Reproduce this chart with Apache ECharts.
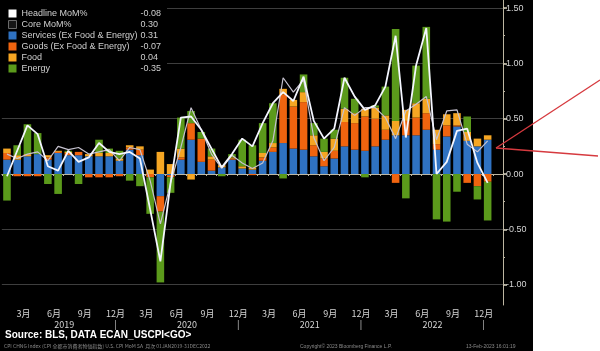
<!DOCTYPE html>
<html>
<head>
<meta charset="utf-8">
<script src="https://cdn.jsdelivr.net/npm/echarts@6/dist/echarts.min.js"></script>
<style>
html,body{margin:0;padding:0;background:#fff;}
#c{width:600px;height:351px;background:linear-gradient(to right,#000 0,#000 533px,#fff 533px,#fff 600px);}
</style>
</head>
<body>
<div id="c"></div>
<script>
const categories = [
 '2019-01','2019-02','2019-03','2019-04','2019-05','2019-06','2019-07','2019-08','2019-09','2019-10','2019-11','2019-12',
 '2020-01','2020-02','2020-03','2020-04','2020-05','2020-06','2020-07','2020-08','2020-09','2020-10','2020-11','2020-12',
 '2021-01','2021-02','2021-03','2021-04','2021-05','2021-06','2021-07','2021-08','2021-09','2021-10','2021-11','2021-12',
 '2022-01','2022-02','2022-03','2022-04','2022-05','2022-06','2022-07','2022-08','2022-09','2022-10','2022-11','2022-12',
 '2023-01'
];
const services = [0.13,0.13,0.16,0.18,0.13,0.19,0.17,0.17,0.16,0.16,0.16,0.12,
 0.22,0.17,0.00,-0.20,-0.01,0.13,0.31,0.11,0.03,0.06,0.13,0.05,
 0.04,0.12,0.20,0.28,0.23,0.22,0.16,0.07,0.14,0.25,0.22,0.21,
 0.25,0.31,0.35,0.35,0.35,0.40,0.22,0.34,0.43,0.30,0.25,0.31];
const goods = [0.06,-0.02,-0.02,-0.02,0.02,0.01,0.02,0.03,-0.03,-0.03,-0.03,-0.02,
 0.02,0.05,-0.03,-0.14,-0.02,0.02,0.15,0.21,0.10,0.00,0.01,0.00,
 -0.01,0.03,0.04,0.44,0.38,0.43,0.10,0.07,0.07,0.22,0.24,0.31,
 0.25,0.09,-0.08,0.13,0.16,0.15,0.05,0.10,0.01,-0.08,-0.11,-0.07];
const food = [0.04,0.04,0.02,0.00,0.02,0.01,0.01,0.00,0.02,0.03,0.03,0.02,
 0.02,0.03,0.04,0.20,0.09,0.08,-0.05,0.00,0.03,0.02,0.01,0.02,
 0.02,0.04,0.04,0.05,0.06,0.09,0.09,0.06,0.11,0.12,0.09,0.07,
 0.10,0.13,0.13,0.10,0.13,0.13,0.13,0.10,0.11,0.08,0.07,0.04];
const energy = [-0.24,0.09,0.27,0.19,-0.09,-0.18,0.01,-0.09,0.00,0.12,0.04,0.07,
 -0.06,-0.11,-0.33,-0.64,-0.14,0.28,0.11,0.06,0.07,-0.02,0.03,0.24,
 0.20,0.27,0.36,-0.04,0.00,0.16,0.11,0.12,0.08,0.28,0.13,-0.03,
 0.02,0.26,0.83,-0.22,0.34,0.65,-0.41,-0.43,-0.16,0.14,-0.12,-0.35];
const headline = [-0.02,0.21,0.44,0.36,0.07,0.03,0.21,0.11,0.15,0.28,0.20,0.18,
 0.20,0.14,-0.32,-0.79,-0.08,0.51,0.52,0.40,0.23,0.06,0.18,0.32,
 0.25,0.46,0.64,0.74,0.66,0.88,0.48,0.32,0.41,0.87,0.70,0.58,
 0.62,0.79,1.25,0.33,0.98,1.32,0.00,0.11,0.39,0.41,0.10,-0.08];
const core = [0.18,0.14,0.18,0.20,0.12,0.25,0.22,0.24,0.18,0.20,0.22,0.12,
 0.24,0.22,-0.06,-0.45,-0.08,0.24,0.60,0.40,0.18,0.05,0.17,0.10,
 0.05,0.10,0.30,0.87,0.74,0.85,0.33,0.12,0.24,0.60,0.53,0.60,
 0.60,0.51,0.32,0.57,0.63,0.70,0.31,0.57,0.58,0.27,0.20,0.30];
const yTicks = [-1.0,-0.5,0.0,0.5,1.0,1.5];
const yMinorTicks = [-1.0,-0.75,-0.5,-0.25,0.0,0.25,0.5,0.75,1.0,1.25,1.5];
const seriesNames = ['Headline MoM%','Core MoM%','Services (Ex Food & Energy)','Goods (Ex Food & Energy)','Food','Energy'];

const last = a => a[a.length-1];
const latest = {
  'Headline MoM%': last(headline), 'Core MoM%': last(core),
  'Services (Ex Food & Energy)': last(services), 'Goods (Ex Food & Energy)': last(goods),
  'Food': last(food), 'Energy': last(energy)
};
const C = {serv:'#2f72c2', goods:'#f0640f', food:'#f6a623', energy:'#5b9a1b'};
const FONT = '"Liberation Sans", "Noto Sans CJK JP", sans-serif';

const chart = echarts.init(document.getElementById('c'), null, {renderer:'canvas'});
const barCommon = {type:'bar', stack:'cpi', barWidth:'74%', xAxisIndex:0, yAxisIndex:0};
chart.setOption({
  animation:false,
  backgroundColor:'transparent',
  textStyle:{fontFamily:FONT},
  grid:{left:-1, right:97, top:0, bottom:46, containLabel:false},
  legend:{
    orient:'vertical', left:0, top:0, padding:[9,6,3,8],
    backgroundColor:'#000000', itemWidth:8, itemHeight:8, itemGap:2, icon:'rect',
    selectedMode:false,
    data:[
      {name:'Headline MoM%', itemStyle:{color:'#ffffff'}},
      {name:'Core MoM%', itemStyle:{color:'#151515', borderColor:'#6a6a6a', borderWidth:1}},
      {name:'Services (Ex Food & Energy)'},
      {name:'Goods (Ex Food & Energy)'},
      {name:'Food'},
      {name:'Energy'}
    ],
    formatter: n => '{n|' + n + '}{v|' + latest[n].toFixed(2) + '}',
    textStyle:{color:'#cfcfcf', fontSize:9, fontFamily:FONT,
      rich:{n:{width:119, fontSize:9, color:'#cfcfcf', fontFamily:FONT}, v:{width:26, fontSize:9, color:'#cfcfcf', fontFamily:FONT}}}
  },
  xAxis:{
    type:'category', data:categories, boundaryGap:true,
    axisLine:{show:true, lineStyle:{color:'#bdb6a2', width:1}},
    axisTick:{show:true, interval:0, length:2, lineStyle:{color:'#bdb6a2'}},
    axisLabel:{
      interval:0, margin:3, color:'#d4d4d4', fontSize:9, lineHeight:11,
      fontFamily:'"Noto Sans CJK JP", sans-serif', padding:[0,8,0,0],
      formatter:(v)=>{
        const m = +v.slice(5), y = v.slice(0,4);
        if (y === '2023') return '';
        if (m % 3 === 0) return m + '月' + (m === 12 ? '\n|' : '');
        if (m === 7) return '\n' + y;
        return '';
      }
    },
    splitLine:{show:false}
  },
  yAxis:[{
    type:'value', position:'right', min:-1.184, max:1.573,
    axisLine:{show:true, lineStyle:{color:'#bdb6a2', width:1}},
    axisTick:{show:true, length:4, inside:false, customValues:yTicks, lineStyle:{color:'#d8d2c0', width:1.5}},
    axisLabel:{show:true, margin:3, color:'#d4d4d4', fontSize:9, fontFamily:FONT, customValues:yTicks,
      formatter:v=>v.toFixed(2)},
    splitLine:{show:false}
  },{
    type:'value', position:'right', min:-1.184, max:1.573,
    axisLine:{show:false},
    axisTick:{show:true, length:2, customValues:yMinorTicks, lineStyle:{color:'#bdb6a2'}},
    axisLabel:{show:false}, splitLine:{show:false}
  }],
  series:[
    Object.assign({}, barCommon, {name:seriesNames[2], data:services, itemStyle:{color:C.serv},
      markLine:{silent:true, symbol:'none', z:1, animation:false, label:{show:false},
        lineStyle:{color:'#3e3e3e', width:1, type:'solid'},
        data:yTicks.filter(v=>v!==0).map(v=>({yAxis:v}))}}),
    Object.assign({}, barCommon, {name:seriesNames[3], data:goods, itemStyle:{color:C.goods}}),
    Object.assign({}, barCommon, {name:seriesNames[4], data:food, itemStyle:{color:C.food}}),
    Object.assign({}, barCommon, {name:seriesNames[5], data:energy, itemStyle:{color:C.energy}}),
    {type:'line', name:seriesNames[1], data:core, symbol:'none', z:4,
      lineStyle:{color:'#c6c2cf', width:1.2}, itemStyle:{color:'#151515'}},
    {type:'line', name:seriesNames[0], data:headline, symbol:'none', z:5,
      lineStyle:{color:'#f4f6ff', width:1.8}, itemStyle:{color:'#ffffff'}}
  ],
  graphic:[
    {type:'text', left:5, top:330, silent:true,
      style:{text:'Source: BLS, DATA ECAN_USCPI<GO>', fill:'#ffffff', font:'bold 10px "Liberation Sans"'}},
    {type:'text', left:4, top:344, silent:true,
      style:{text:'CPI CHNG Index (CPI 全都市消費者物価指数) U.S. CPI MoM SA  月次 01JAN2019-31DEC2022', fill:'#8a8a8a', font:'5px "Noto Sans CJK JP"'}},
    {type:'text', left:300, top:344, silent:true,
      style:{text:'Copyright© 2023 Bloomberg Finance L.P.', fill:'#8a8a8a', font:'5px "Liberation Sans"'}},
    {type:'text', left:466, top:344, silent:true,
      style:{text:'13-Feb-2023 16:01:19', fill:'#8a8a8a', font:'5px "Liberation Sans"'}},
    {type:'line', silent:true, z:100, shape:{x1:496, y1:148, x2:600, y2:80}, style:{stroke:'#d63a3f', lineWidth:1.3}},
    {type:'line', silent:true, z:100, shape:{x1:496, y1:148, x2:598, y2:156}, style:{stroke:'#d63a3f', lineWidth:1.3}}
  ]
});
</script>
</body>
</html>
